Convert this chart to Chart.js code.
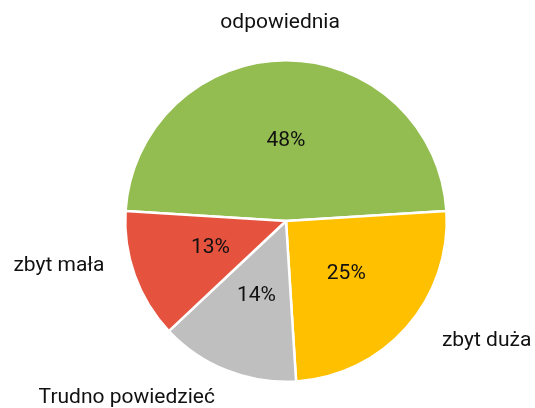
<!DOCTYPE html>
<html>
<head>
<meta charset="utf-8">
<script src="https://cdn.jsdelivr.net/npm/chart.js@4/dist/chart.umd.min.js"></script>
<style>
body{margin:0;background:#fff;}
#wrap{width:535px;height:408px;}
</style>
</head>
<body>
<div id="wrap"><canvas id="pie" width="535" height="408"></canvas></div>
<script>
// dane z wykresu
var categories = ['odpowiednia', 'zbyt duża', 'Trudno powiedzieć', 'zbyt mała'];
var values = [48, 25, 14, 13];
var colors = ['#93BD51', '#FFC000', '#BFBFBF', '#E5533F'];

// where the outside category labels sit (angle in deg, distance as fraction of radius)
var outsideLabelPos = [[-91.7, 1.236], [30.8, 1.453], [132, 1.48], [168.8, 1.44]];

var labelPlugin = {
  id: 'pieLabels',
  afterDatasetsDraw: function(chart) {
    var ctx = chart.ctx;
    var meta = chart.getDatasetMeta(0);
    ctx.save();
    ctx.font = '21px Roboto';
    ctx.fillStyle = '#111';
    ctx.textAlign = 'center';
    ctx.textBaseline = 'middle';
    meta.data.forEach(function(arc, i) {
      var p = arc.getProps(['x', 'y', 'startAngle', 'endAngle', 'outerRadius'], true);
      var mid = (p.startAngle + p.endAngle) / 2;
      var r = p.outerRadius;
      ctx.fillText(values[i] + '%', p.x + Math.cos(mid) * r * 0.5, p.y + Math.sin(mid) * r * 0.5);
      var a = outsideLabelPos[i][0] * Math.PI / 180;
      var d = outsideLabelPos[i][1] * r;
      ctx.fillText(categories[i], p.x + Math.cos(a) * d, p.y + Math.sin(a) * d);
    });
    ctx.restore();
  }
};

var ctx = document.getElementById('pie').getContext('2d');
var myChart = new Chart(ctx, {
  type: 'pie',
  data: {
    labels: categories,
    datasets: [{
      data: values,
      backgroundColor: colors,
      borderColor: '#fff',
      borderWidth: 2.5
    }]
  },
  options: {
    responsive: false,
    animation: false,
    rotation: -86.4,
    layout: { padding: { left: 124, right: 87, top: 59, bottom: 25 } },
    plugins: {
      legend: { display: false },
      tooltip: { enabled: false }
    }
  },
  plugins: [labelPlugin]
});
</script>
</body>
</html>
